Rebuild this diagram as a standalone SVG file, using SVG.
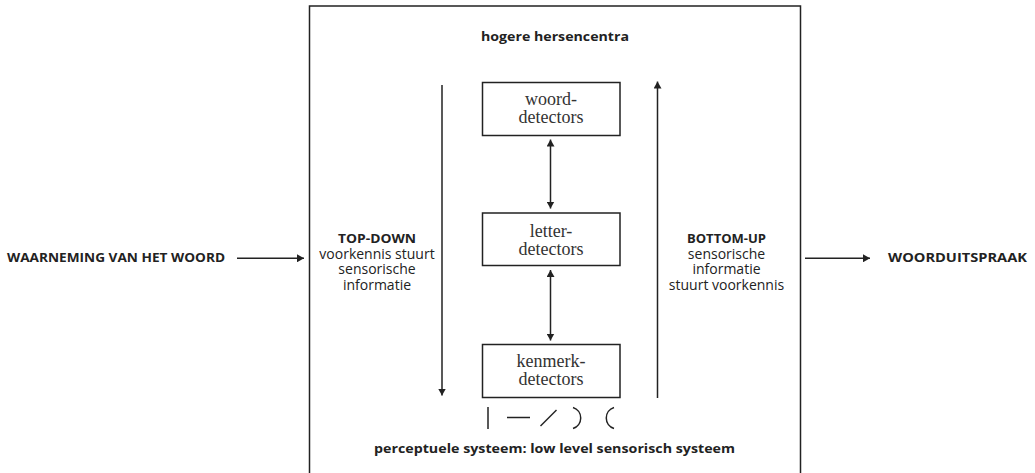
<svg xmlns="http://www.w3.org/2000/svg" width="1035" height="473" viewBox="0 0 1035 473">
<defs>
<style>
.ln{stroke:#222;stroke-width:1.5;fill:none}
.bx{stroke:#222;stroke-width:1.5;fill:#fff}
.sb{font-family:"Open Sans","Liberation Sans",sans-serif;font-weight:bold;fill:#222}
.sr{font-family:"Open Sans","Liberation Sans",sans-serif;font-size:14px;fill:#222;text-anchor:middle}
.sf{font-family:"Liberation Serif","DejaVu Serif",serif;font-size:18px;fill:#333;text-anchor:middle}
</style>
<marker id="ah" viewBox="0 0 7 8" refX="7" refY="4" markerWidth="7" markerHeight="8" markerUnits="userSpaceOnUse" orient="auto-start-reverse">
<path d="M0,0 L7,4 L0,8 z" fill="#222"/>
</marker>
</defs>
<rect width="1035" height="473" fill="#fff"/>
<g id="frame">
<path class="ln" d="M309.5,480 V6 H800.5 V480"/>
<text class="sb" x="555" y="41" font-size="13" text-anchor="middle" textLength="148" lengthAdjust="spacingAndGlyphs">hogere hersencentra</text>
<text class="sb" x="554.5" y="453" font-size="13" text-anchor="middle" textLength="361" lengthAdjust="spacingAndGlyphs">perceptuele systeem: low level sensorisch systeem</text>
</g>
<g id="input">
<text class="sb" x="7" y="262" font-size="12.5" textLength="218" lengthAdjust="spacingAndGlyphs">WAARNEMING VAN HET WOORD</text>
</g>
<g id="output">
<text class="sb" x="888" y="262" font-size="12.5" textLength="139" lengthAdjust="spacingAndGlyphs">WOORDUITSPRAAK</text>
</g>
<g id="woord">
<rect class="bx" x="482.5" y="82.5" width="137.5" height="53"/>
<text class="sf" x="551" y="105">woord-</text>
<text class="sf" x="551" y="123">detectors</text>
</g>
<g id="letter">
<rect class="bx" x="482.5" y="213" width="137.5" height="52.5"/>
<text class="sf" x="551" y="236.5">letter-</text>
<text class="sf" x="551" y="254.5">detectors</text>
</g>
<g id="kenmerk">
<rect class="bx" x="482.5" y="344.5" width="137.5" height="53"/>
<text class="sf" x="551" y="367">kenmerk-</text>
<text class="sf" x="551" y="385">detectors</text>
</g>
<g id="topdown">
<text class="sb" x="377" y="243" font-size="12" text-anchor="middle" textLength="78" lengthAdjust="spacingAndGlyphs">TOP-DOWN</text>
<text class="sr" x="377" y="258.5">voorkennis stuurt</text>
<text class="sr" x="377" y="274">sensorische</text>
<text class="sr" x="377" y="290">informatie</text>
</g>
<g id="bottomup">
<text class="sb" x="726.5" y="243" font-size="12" text-anchor="middle" textLength="79" lengthAdjust="spacingAndGlyphs">BOTTOM-UP</text>
<text class="sr" x="726.5" y="258.5">sensorische</text>
<text class="sr" x="726.5" y="274">informatie</text>
<text class="sr" x="726.5" y="290">stuurt voorkennis</text>
</g>
<g id="features" class="ln">
<path d="M488,407 V429"/>
<path d="M507,417.5 H530"/>
<path d="M540.5,426 L556.5,410"/>
<path d="M573,407.5 A11,11 0 0 1 573,428.5"/>
<path d="M614,407.5 A11,11 0 0 0 614,428.5"/>
</g>
<g id="connectors" class="ln">
<path d="M237,258.3 H304" marker-end="url(#ah)"/>
<path d="M805,258.3 H870" marker-end="url(#ah)"/>
<path d="M550.5,139.5 V208.5" marker-start="url(#ah)" marker-end="url(#ah)"/>
<path d="M550.5,270 V340.5" marker-start="url(#ah)" marker-end="url(#ah)"/>
<path d="M442,85 V395.5" marker-end="url(#ah)"/>
<path d="M657.5,398 V81.5" marker-end="url(#ah)"/>
</g>
</svg>
